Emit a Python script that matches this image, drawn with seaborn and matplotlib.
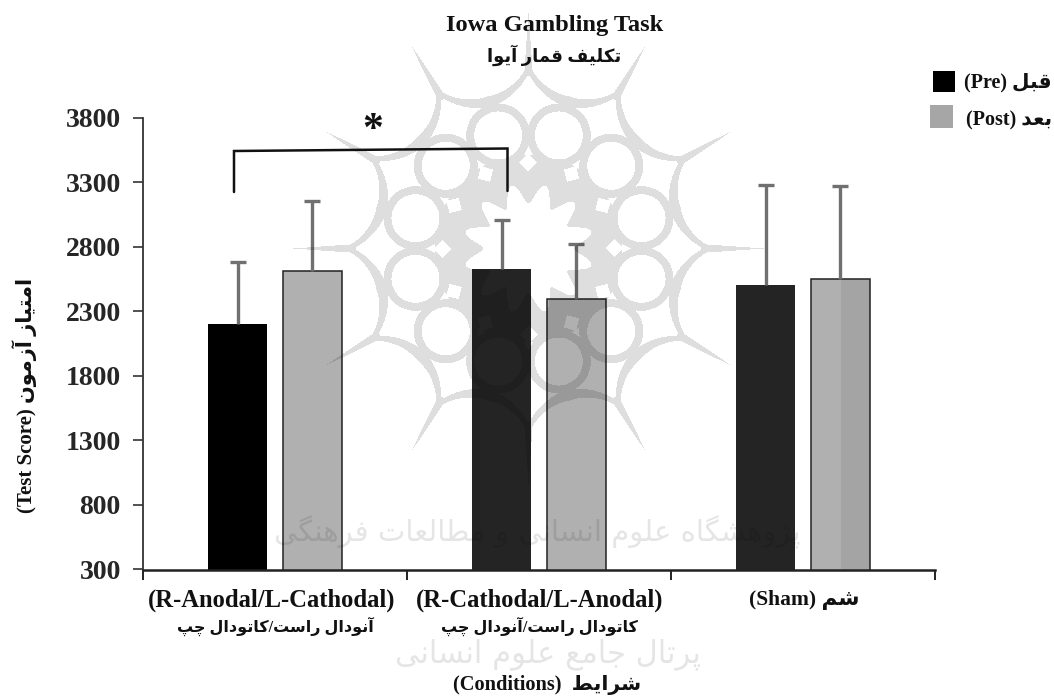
import numpy as np
import pandas as pd
import matplotlib
matplotlib.use('Agg')
import matplotlib.pyplot as plt
from matplotlib.patches import Rectangle
import seaborn as sns

# --- data ---
conditions = ['(R-Anodal/L-Cathodal)', '(R-Cathodal/L-Anodal)', '(Sham)']
conditions_fa = ['آنودال راست/کاتودال چپ', 'کاتودال راست/آنودال چپ']
pre_scores = [2202, 2627, 2505]
post_scores = [2613, 2394, 2549]
pre_err = [484, 382, 775]
post_err = [543, 429, 724]
y_ticks = [300, 800, 1300, 1800, 2300, 2800, 3300, 3800]
pre_colors = ['#000000', '#242424', '#242424']
post_colors = ['#b0b0b0', '#b0b0b0', '#b0b0b0']

# matplotlib has no arabic shaping, so pick the presentation forms by hand
FORMS = {
    'ا': 'ﺍﺎ', 'آ': 'ﺁﺂ', 'د': 'ﺩﺪ', 'ر': 'ﺭﺮ', 'ز': 'ﺯﺰ', 'ژ': 'ﮊﮋ', 'و': 'ﻭﻮ',
    'ب': 'ﺏﺐﺑﺒ', 'پ': 'ﭖﭗﭘﭙ', 'ت': 'ﺕﺖﺗﺘ', 'چ': 'ﭺﭻﭼﭽ', 'ج': 'ﺝﺞﺟﺠ',
    'س': 'ﺱﺲﺳﺴ', 'ش': 'ﺵﺶﺷﺸ', 'ط': 'ﻁﻂﻃﻄ', 'ع': 'ﻉﻊﻋﻌ', 'ف': 'ﻑﻒﻓﻔ',
    'ق': 'ﻕﻖﻗﻘ', 'ک': 'ﮎﮏﮐﮑ', 'گ': 'ﮒﮓﮔﮕ', 'ل': 'ﻝﻞﻟﻠ', 'م': 'ﻡﻢﻣﻤ',
    'ن': 'ﻥﻦﻧﻨ', 'ه': 'ﻩﻪﻫﻬ', 'ی': 'ﯼﯽﯾﯿ',
}


def fa(text):
    out = []
    for i, ch in enumerate(text):
        if ch not in FORMS:
            out.append(ch)
            continue
        before = i > 0 and len(FORMS.get(text[i - 1], '')) == 4
        after = i + 1 < len(text) and text[i + 1] in FORMS and len(FORMS[ch]) == 4
        if before and after:
            out.append(FORMS[ch][3])
        elif before:
            out.append(FORMS[ch][1])
        elif after:
            out.append(FORMS[ch][2])
        else:
            out.append(FORMS[ch][0])
    return ''.join(out[::-1])


sns.set_theme(style='white')
plt.rcParams['font.family'] = ['Liberation Serif', 'DejaVu Sans']
plt.rcParams['font.weight'] = 'bold'

df = pd.DataFrame({
    'condition': conditions * 2,
    'phase': ['pre'] * 3 + ['post'] * 3,
    'score': pre_scores + post_scores,
})

W, H = 1054, 697
fig = plt.figure(figsize=(W / 100, H / 100), dpi=100, facecolor='white')
ax = fig.add_axes([143 / W, 1 - 569.5 / H, (935 - 143) / W, (569.5 - 118) / H])

sns.barplot(data=df, x='condition', y='score', hue='phase', palette=['#000000', '#b0b0b0'],
            width=0.568, gap=0.213, errorbar=None, legend=False, ax=ax)

bars = list(ax.patches)
for bar, col in zip(bars[:3], pre_colors):
    bar.set_facecolor(col)
    bar.set_edgecolor('none')
for bar, col in zip(bars[3:], post_colors):
    bar.set_facecolor(col)
    bar.set_edgecolor('#222222')
    bar.set_linewidth(1.1)

centers = [b.get_x() + b.get_width() / 2 for b in bars]
eb = ax.errorbar(centers, pre_scores + post_scores,
                 yerr=[[0] * 6, pre_err + post_err],
                 fmt='none', ecolor='#707070', elinewidth=2.4, capsize=6, capthick=2.4, zorder=1)
eb[1][0].set_visible(False)  # no cap on the lower side

ax.set_xlim(-0.5, 2.5)
ax.set_ylim(300, 3800)
ax.set_yticks(y_ticks)
ax.set_xticks([-0.5, 0.5, 1.5, 2.5])
ax.set_xticklabels([])
ax.set_xlabel('')
ax.set_ylabel('')
ax.tick_params(axis='y', length=7, width=1.2, color='#333333', labelsize=20, pad=9, left=True)
ax.tick_params(axis='x', length=7, width=1.4, color='#222222', bottom=True)
sns.despine(ax=ax)
ax.spines['left'].set_color('#333333')
ax.spines['left'].set_linewidth(1.3)
ax.spines['bottom'].set_color('#222222')
ax.spines['bottom'].set_linewidth(1.8)

# overlay in pixel coordinates for the scanned watermark and the annotations
over = fig.add_axes([0, 0, 1, 1], facecolor='none', zorder=5)

# watermark rosette (12 fold), as an alpha mask so overlaps do not add up
yy, xx = np.mgrid[0:H, 0:W]
dx, dy = xx - 528.0, yy - 248.0
rad = np.hypot(dx, dy)
ang = np.arctan2(dy, dx)
mask = np.zeros((H, W), dtype=bool)
inner = (rad > 55 - 10 * np.cos(12 * ang)) & (rad < 94)
for k in range(12):
    a = np.radians(15 + 30 * k)
    u = dx * np.cos(a) + dy * np.sin(a)
    v = -dx * np.sin(a) + dy * np.cos(a)
    ring = np.hypot(u - 117, v)
    mask |= (ring > 24) & (ring < 32)
    inner &= ring > 24
    arc = np.hypot(u - 212, v)
    half = 1.0 + 4.5 * np.clip(1 - np.abs(v) / 62, 0, 1)
    mask |= (np.abs(arc - 60) < half) & (np.abs(v) < u * np.tan(np.radians(15))) & (u < 200)
    # spike running out to the tip, and the small hole inside on the same axis
    b = a + np.radians(15)
    u2 = dx * np.cos(b) + dy * np.sin(b)
    v2 = -dx * np.sin(b) + dy * np.cos(b)
    mask |= (u2 > 172) & (np.abs(v2) < (236 - u2) * 0.07)
    inner &= (np.abs(u2 - 86) + np.abs(v2)) > 9
mask |= inner
shade = np.zeros((H, W, 4))
shade[..., 3] = mask * 0.13
shade[280:569, 841:870, 3] = 0.07
over.imshow(shade, extent=(0, W, H, 0), aspect='auto', interpolation='bilinear')

wm = dict(family='DejaVu Sans', color='black', alpha=0.1, ha='center', va='center', fontweight='normal')
over.text(537, 532, fa('پژوهشگاه علوم انسانی و مطالعات فرهنگی'), fontsize=21, **wm)
over.text(548, 654, fa('پرتال جامع علوم انسانی'), fontsize=22, **wm)

over.plot([234, 234, 507.5, 507.5], [192, 151, 148.5, 191], color='#111111', lw=1.8, solid_joinstyle='miter')
over.add_patch(Rectangle((933, 71), 22, 21, color='#000000', lw=0))
over.add_patch(Rectangle((930, 105), 23, 23, color='#a6a6a6', lw=0))
over.set_xlim(0, W)
over.set_ylim(H, 0)
over.axis('off')


def label(x, y, s, size, **kw):
    over.text(x, y, s, fontsize=size, ha=kw.pop('ha', 'center'), va='center', color='#111111', **kw)


label(373, 131, '*', 30)
label(555, 25, 'Iowa Gambling Task', 17.6)
label(554, 55, fa('تکلیف قمار آیوا'), 13)
label(1052, 82, '(Pre) ' + fa('قبل'), 14.5, ha='right')
label(1052, 120, '(Post) ' + fa('بعد'), 14.5, ha='right')
label(272, 600, conditions[0], 17.7)
label(540, 600, conditions[1], 17.7)
label(804, 600, conditions[2] + ' ' + fa('شم'), 15.5)
label(275, 626, fa(conditions_fa[0]), 11.5)
label(539, 626, fa(conditions_fa[1]), 11.5)
label(547, 685, '(Conditions)  ' + fa('شرایط'), 14.7)
label(25, 395, '(Test Score) ' + fa('امتیاز آزمون'), 15, rotation=90)

fig.savefig('out.png', dpi=100, facecolor='white')
